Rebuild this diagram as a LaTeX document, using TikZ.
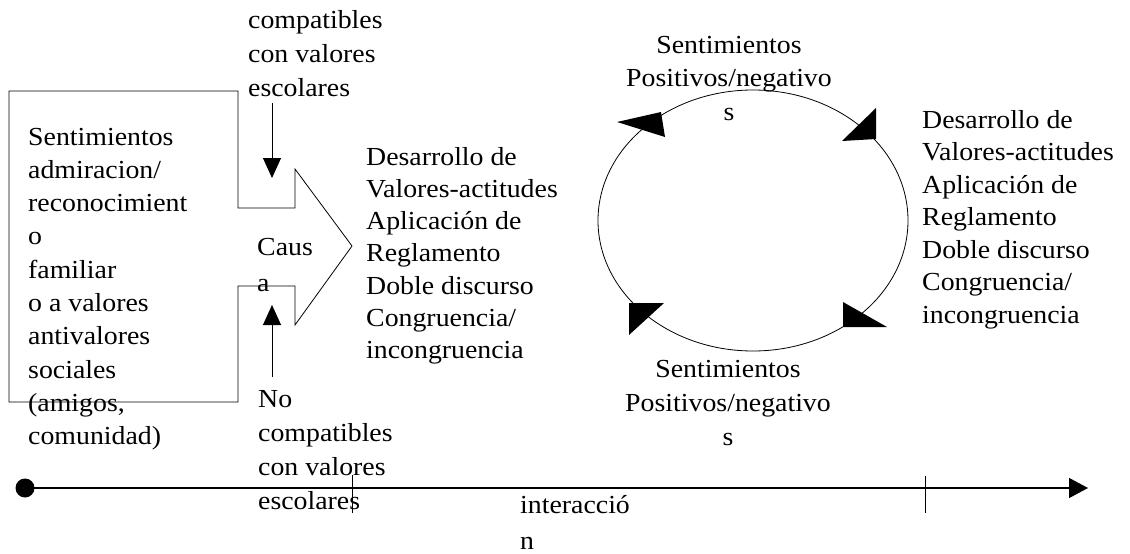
\documentclass[tikz,border=0pt]{standalone}
\usepackage{fontspec}
\setmainfont{Liberation Serif}[FakeStretch=1.07]
\usetikzlibrary{arrows.meta}
\begin{document}
\begin{tikzpicture}[x=1pt,y=-1pt,
  txt/.style={inner sep=0pt, anchor=base west, align=left},
  ctxt/.style={inner sep=0pt, anchor=base, align=center},
  thin line/.style={line width=0.8pt},
  head/.style={-{Triangle[length=20pt,width=18pt]}}]
\useasboundingbox (0,0) rectangle (1130,554);
% left box merged with arrow
\draw[thin line] (9,91) -- (238,91) -- (238,208) -- (295,208) -- (295,169)
  -- (352,246) -- (295,325) -- (295,286) -- (238,286) -- (238,402)
  -- (9,402) -- cycle;
% node positions give the baseline of the LAST line
\node[txt, font=\fontsize{26}{33.3}\selectfont] (left) at (28,444.7)
  {Sentimientos\\admiracion/\\reconocimient\\o\\familiar\\o a valores\\antivalores\\sociales\\(amigos,\\comunidad)};
\node[txt, font=\fontsize{26}{34}\selectfont] (top) at (248,96)
  {compatibles\\con valores\\escolares};
\node[txt, font=\fontsize{26}{36}\selectfont] (causa) at (257,291) {Caus\\a};
\node[txt, font=\fontsize{26}{32.3}\selectfont] (mid) at (366,358.8)
  {Desarrollo de\\Valores-actitudes\\Aplicación de\\Reglamento\\Doble discurso\\Congruencia/\\incongruencia};
\node[txt, font=\fontsize{26}{32.5}\selectfont] (right) at (922,323)
  {Desarrollo de\\Valores-actitudes\\Aplicación de\\Reglamento\\Doble discurso\\Congruencia/\\incongruencia};
\node[txt, font=\fontsize{26}{33.7}\selectfont] (no) at (258,509)
  {No\\compatibles\\con valores\\escolares};
\node[ctxt, font=\fontsize{26}{33.5}\selectfont] (ctop) at (729,120)
  {Sentimientos\\Positivos/negativo\\s};
\node[ctxt, font=\fontsize{26}{34}\selectfont] (cbot) at (728,445)
  {Sentimientos\\Positivos/negativo\\s};
\node[txt, font=\fontsize{26}{36}\selectfont] (inter) at (520,549) {interacció\\n};
% vertical arrows
\coordinate (topstart) at (272,103);
\coordinate (toptip) at (272,178);
\coordinate (botstart) at (272,377);
\coordinate (bottip) at (272,305);
\draw[thin line, head] (topstart) -- (toptip);
\draw[thin line, head] (botstart) -- (bottip);
% cycle
\draw[thin line] (753,220.5) ellipse [x radius=155pt, y radius=130.5pt];
\fill (617,122) -- (661,112) -- (665,137) -- cycle;
\fill (842,141) -- (876,108) -- (876,139) -- cycle;
\fill (629,303) -- (664,303) -- (629,335) -- cycle;
\fill (843,302) -- (887,327) -- (843,327) -- cycle;
% timeline
\node[circle, fill, inner sep=0pt, minimum size=19pt] (dot) at (25,488) {};
\coordinate (tend) at (1088,488);
\draw[line width=1.2pt, -{Triangle[length=19pt,width=20pt]}] (dot.center) -- (tend);
\coordinate (tickA1) at (352,475); \coordinate (tickA2) at (352,513);
\coordinate (tickB1) at (925,476); \coordinate (tickB2) at (925,513);
\draw[thin line] (tickA1) -- (tickA2);
\draw[thin line] (tickB1) -- (tickB2);
\end{tikzpicture}
\end{document}
